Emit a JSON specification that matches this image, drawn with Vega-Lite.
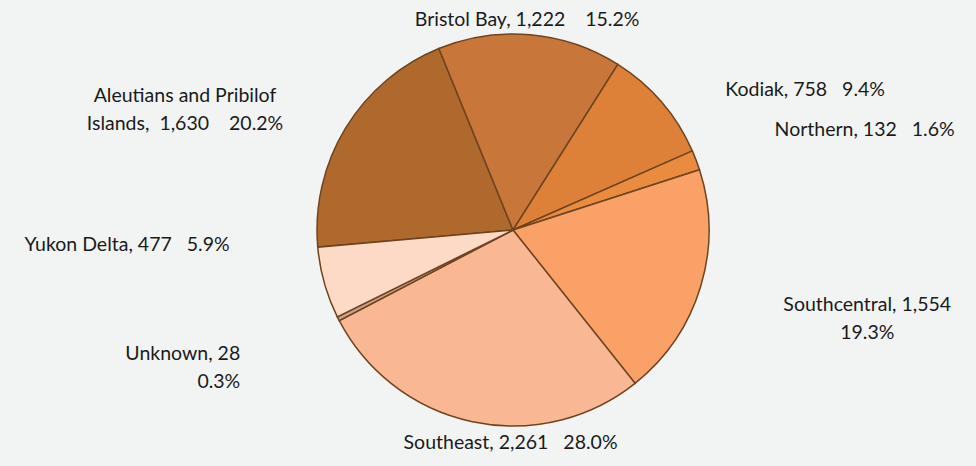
{
  "$schema": "https://vega.github.io/schema/vega-lite/v6.json",
  "width": 926,
  "height": 446,
  "autosize": "none",
  "padding": {"left": 50, "top": 7, "right": 0, "bottom": 13},
  "background": "#f2f4f4",
  "view": {"stroke": null},
  "data": {
    "values": [
      {"region": "Aleutians and Pribilof Islands", "count": 1630, "label": "Aleutians and Pribilof\nIslands,\u00a0\u00a01,630\u00a0\u00a0\u00a0\u00a020.2%"},
      {"region": "Bristol Bay", "count": 1222, "label": "Bristol Bay, 1,222\u00a0\u00a0\u00a0\u00a015.2%"},
      {"region": "Kodiak", "count": 758, "label": "Kodiak, 758\u00a0\u00a0\u00a09.4%"},
      {"region": "Northern", "count": 132, "label": "Northern, 132\u00a0\u00a0\u00a01.6%"},
      {"region": "Southcentral", "count": 1554, "label": "Southcentral, 1,554\n19.3%"},
      {"region": "Southeast", "count": 2261, "label": "Southeast, 2,261\u00a0\u00a0\u00a028.0%"},
      {"region": "Unknown", "count": 28, "label": "Unknown, 28\n0.3%"},
      {"region": "Yukon Delta", "count": 477, "label": "Yukon Delta, 477\u00a0\u00a0\u00a05.9%"}
    ]
  },
  "encoding": {
    "theta": {"field": "count", "type": "quantitative", "stack": true, "scale": {"range": [4.625, 10.908]}},
    "order": {"field": "region", "type": "nominal", "sort": "ascending"}
  },
  "layer": [
    {
      "mark": {"type": "arc", "outerRadius": 196, "stroke": "#6e4420", "strokeWidth": 1.5},
      "encoding": {
        "color": {
          "field": "region",
          "type": "nominal",
          "scale": {
            "domain": ["Aleutians and Pribilof Islands", "Bristol Bay", "Kodiak", "Northern", "Southcentral", "Southeast", "Unknown", "Yukon Delta"],
            "range": ["#b0692c", "#c8763a", "#dd8139", "#ea8c40", "#f9a166", "#fab793", "#c9a08a", "#fddac6"]
          },
          "legend": null
        }
      }
    },
    {
      "mark": {"type": "text", "radius": 205, "align": "center", "dx": -153, "dy": -27, "baseline": "middle", "font": "Lato", "fontSize": 19.5, "lineBreak": "\n", "lineHeight": 28, "color": "#1a1a1a"},
      "encoding": {"text": {"condition": {"test": "datum.region === 'Aleutians and Pribilof Islands'", "field": "label"}, "value": ""}}
    },
    {
      "mark": {"type": "text", "radius": 205, "align": "center", "dx": -4, "dy": -6, "baseline": "middle", "font": "Lato", "fontSize": 19.5, "color": "#1a1a1a"},
      "encoding": {"text": {"condition": {"test": "datum.region === 'Bristol Bay'", "field": "label"}, "value": ""}}
    },
    {
      "mark": {"type": "text", "radius": 205, "align": "left", "dx": 57, "dy": -6, "baseline": "middle", "font": "Lato", "fontSize": 19.5, "color": "#1a1a1a"},
      "encoding": {"text": {"condition": {"test": "datum.region === 'Kodiak'", "field": "label"}, "value": ""}}
    },
    {
      "mark": {"type": "text", "radius": 205, "align": "left", "dx": 70, "dy": -27, "baseline": "middle", "font": "Lato", "fontSize": 19.5, "color": "#1a1a1a"},
      "encoding": {"text": {"condition": {"test": "datum.region === 'Northern'", "field": "label"}, "value": ""}}
    },
    {
      "mark": {"type": "text", "radius": 205, "align": "center", "dx": 158, "dy": 16, "baseline": "middle", "font": "Lato", "fontSize": 19.5, "lineBreak": "\n", "lineHeight": 28, "color": "#1a1a1a"},
      "encoding": {"text": {"condition": {"test": "datum.region === 'Southcentral'", "field": "label"}, "value": ""}}
    },
    {
      "mark": {"type": "text", "radius": 205, "align": "center", "dx": 40, "dy": 12, "baseline": "middle", "font": "Lato", "fontSize": 19.5, "color": "#1a1a1a"},
      "encoding": {"text": {"condition": {"test": "datum.region === 'Southeast'", "field": "label"}, "value": ""}}
    },
    {
      "mark": {"type": "text", "radius": 205, "align": "right", "dx": -90, "dy": 31, "baseline": "middle", "font": "Lato", "fontSize": 19.5, "lineBreak": "\n", "lineHeight": 28, "color": "#1a1a1a"},
      "encoding": {"text": {"condition": {"test": "datum.region === 'Unknown'", "field": "label"}, "value": ""}}
    },
    {
      "mark": {"type": "text", "radius": 205, "align": "right", "dx": -86, "dy": -40, "baseline": "middle", "font": "Lato", "fontSize": 19.5, "color": "#1a1a1a"},
      "encoding": {"text": {"condition": {"test": "datum.region === 'Yukon Delta'", "field": "label"}, "value": ""}}
    }
  ]
}
